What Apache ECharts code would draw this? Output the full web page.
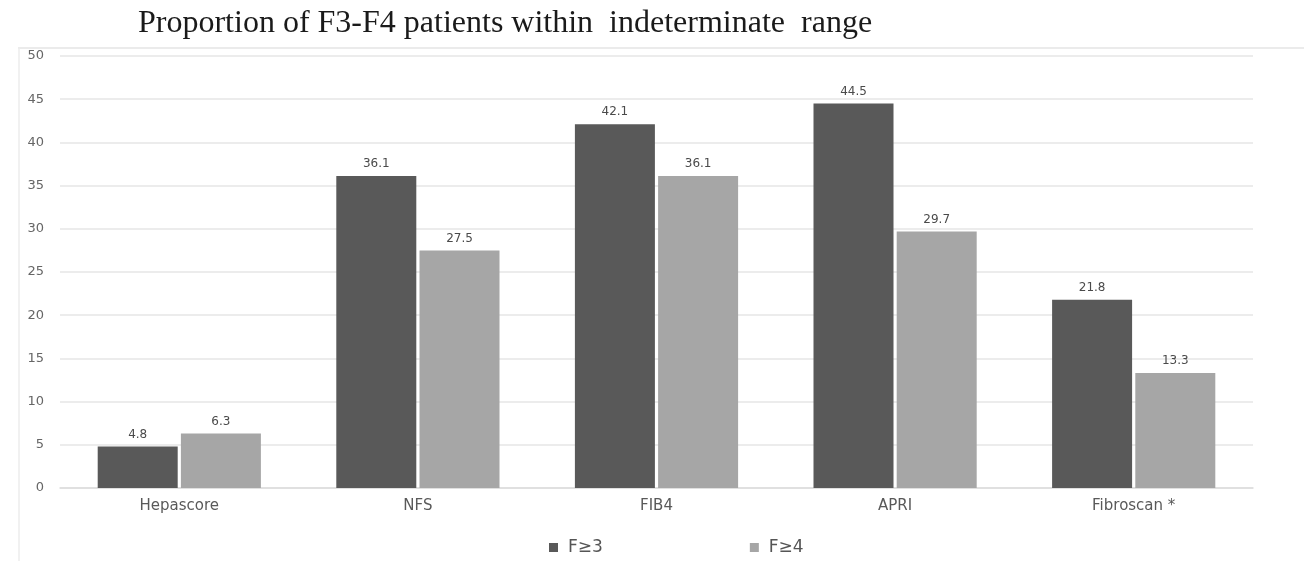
<!DOCTYPE html>
<html>
<head>
<meta charset="utf-8">
<script src="https://cdn.jsdelivr.net/npm/echarts@6/dist/echarts.min.js"></script>
<style>
  html, body { margin: 0; padding: 0; background: #ffffff; }
  #chart { width: 1304px; height: 561px; }
</style>
</head>
<body>
<div id="chart"></div>
<script>
// Proportion of F3-F4 patients within the indeterminate range, per score
const categories = ['Hepascore', 'NFS', 'FIB4', 'APRI', 'Fibroscan *'];
const seriesNames = ['F\u22653', 'F\u22654'];
const f3Values = [4.8, 36.1, 42.1, 44.5, 21.8];
const f4Values = [6.3, 27.5, 36.1, 29.7, 13.3];
const yTicks = { min: 0, max: 50, interval: 5 };

const chart = echarts.init(document.getElementById('chart'), null, { renderer: 'canvas' });

const sans = 'DejaVu Sans, Verdana, sans-serif';

const labelStyle = {
  show: true,
  position: 'top',
  distance: 6,
  color: '#4a4a4a',
  fontFamily: sans,
  fontSize: 12,
  formatter: p => p.value.toFixed(1)
};

chart.setOption({
  animation: false,
  backgroundColor: '#ffffff',
  title: {
    text: 'Proportion of F3-F4 patients within  indeterminate  range',
    left: 133,
    top: 3,
    textStyle: {
      fontFamily: 'Liberation Serif, Times New Roman, serif',
      fontWeight: 'normal',
      fontSize: 32,
      color: '#1a1a1a'
    }
  },
  graphic: [
    { type: 'line', shape: { x1: 18, y1: 48, x2: 1304, y2: 48 }, style: { stroke: '#e4e4e4', lineWidth: 1.5 } },
    { type: 'line', shape: { x1: 19, y1: 48, x2: 19, y2: 561 }, style: { stroke: '#ececec', lineWidth: 1.5 } }
  ],
  legend: {
    data: seriesNames,
    left: 544,
    top: 534,
    itemGap: 147,
    itemWidth: 9,
    itemHeight: 9,
    icon: 'rect',
    textStyle: {
      fontFamily: sans,
      fontSize: 17,
      color: '#555555',
      padding: [0, 0, 0, 5]
    }
  },
  grid: { left: 60, right: 51, top: 56, bottom: 73, containLabel: false },
  xAxis: {
    type: 'category',
    data: categories,
    axisTick: { show: false },
    axisLine: { show: true, lineStyle: { color: '#dcdcdc', width: 1.5 } },
    axisLabel: {
      margin: 11,
      color: '#595959',
      fontFamily: sans,
      fontSize: 15
    }
  },
  yAxis: {
    type: 'value',
    min: yTicks.min,
    max: yTicks.max,
    interval: yTicks.interval,
    axisLine: { show: false },
    axisTick: { show: false },
    axisLabel: {
      margin: 16,
      color: '#666666',
      fontFamily: sans,
      fontSize: 13
    },
    splitLine: { lineStyle: { color: '#e6e6e6', width: 1.5 } }
  },
  series: [
    {
      name: seriesNames[0],
      type: 'bar',
      data: f3Values,
      barWidth: 80,
      barGap: '4%',
      itemStyle: { color: '#595959' },
      label: labelStyle
    },
    {
      name: seriesNames[1],
      type: 'bar',
      data: f4Values,
      barWidth: 80,
      barGap: '4%',
      itemStyle: { color: '#a6a6a6' },
      label: labelStyle
    }
  ]
});
</script>
</body>
</html>
